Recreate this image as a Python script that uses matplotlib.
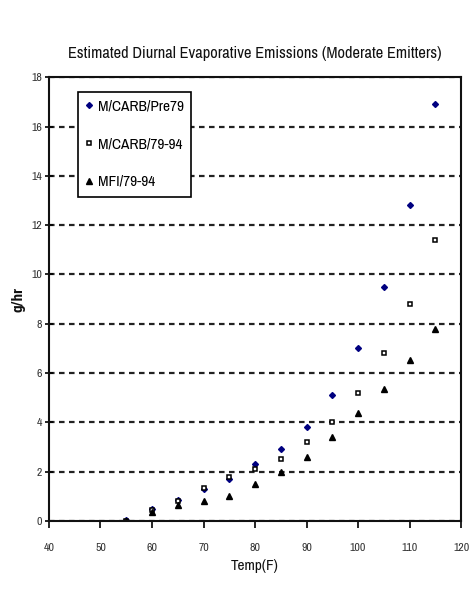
import matplotlib
matplotlib.use("Agg")
import matplotlib.pyplot as plt

temps = [55, 60, 65, 70, 75, 80, 85, 90, 95, 100, 105, 110, 115]
carb_pre79 = [0.05, 0.5, 0.85, 1.3, 1.7, 2.3, 2.9, 3.8, 5.1, 7.0, 9.5, 12.8, 16.9]
carb_7994 = [0.0, 0.45, 0.8, 1.35, 1.8, 2.1, 2.5, 3.2, 4.0, 5.2, 6.8, 8.8, 11.4]
mfi_7994 = [0.0, 0.35, 0.65, 0.8, 1.0, 1.5, 2.0, 2.6, 3.4, 4.4, 5.35, 6.55, 7.8]
labels = ["M/CARB/Pre79", "M/CARB/79-94", "MFI/79-94"]
title = "Estimated Diurnal Evaporative Emissions (Moderate Emitters)"

plt.rcParams['font.family'] = ['Archivo Narrow', 'DejaVu Sans']

fig = plt.figure(figsize=(4.71, 5.90), dpi=100)
ax = fig.add_axes([0.104, 0.117, 0.875, 0.752])

ax.plot(temps, carb_pre79, linestyle='none', marker='D', ms=3, color='#000080',
        label=labels[0])
ax.plot(temps, carb_7994, linestyle='none', marker='s', ms=3.5, mfc='white', mec='black',
        mew=1.1, label=labels[1])
ax.plot(temps, mfi_7994, linestyle='none', marker='^', ms=4.5, color='black', label=labels[2])

ax.set_xlim(40, 120)
ax.set_ylim(0, 18)
ax.set_xticks(range(40, 121, 10))
ax.set_yticks(range(0, 19, 2))
ax.yaxis.grid(True, linestyle=(0, (2.5, 2)), color='#222222', linewidth=1.6)
ax.set_axisbelow(True)
for s in ax.spines.values():
    s.set_linewidth(1.5)
    s.set_color('#111111')
ax.tick_params(axis='y', direction='inout', length=6, width=1.2, labelsize=8.5,
               labelcolor='#333333', pad=2)
ax.tick_params(axis='x', direction='out', length=5, width=1.2, labelsize=8.5,
               labelcolor='#333333', pad=11)

ax.set_title(title, fontsize=11.8, pad=14, color='#111111')
ax.set_xlabel("Temp(F)", fontsize=11, labelpad=4, color='#111111')
ax.set_ylabel("g/hr", fontsize=11, fontweight='bold', labelpad=4, color='#111111',
              family=['Roboto Condensed', 'DejaVu Sans'])

leg = ax.legend(loc='upper left', bbox_to_anchor=(0.07, 0.967), frameon=True, fancybox=False,
                edgecolor='black', fontsize=11, handlelength=0.5, handletextpad=0.3,
                borderpad=0.5, labelspacing=1.55, borderaxespad=0)
leg.get_frame().set_linewidth(1.2)
leg.get_frame().set_alpha(1)

fig.savefig("out.png", dpi=100)
